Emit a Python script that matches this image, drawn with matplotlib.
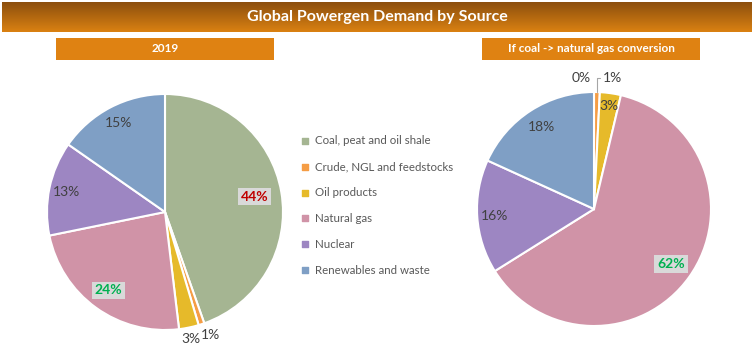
import numpy as np
import matplotlib.pyplot as plt

# Données (part de la demande par source)
sources = ["Coal, peat and oil shale", "Crude, NGL and feedstocks", "Oil products",
           "Natural gas", "Nuclear", "Renewables and waste"]
colors = ["#A5B592", "#F59D45", "#E6BA2A", "#D093A7", "#9D86C2", "#7F9FC5"]
share_2019 = [44.6, 0.8, 2.7, 23.7, 12.9, 15.3]
share_conv = [0.0, 0.8, 2.9, 62.4, 15.7, 18.2]
labels_2019 = ["44%", "1%", "3%", "24%", "13%", "15%"]
labels_conv = ["0%", "1%", "3%", "62%", "16%", "18%"]

plt.rcParams['font.family'] = ['Lato', 'DejaVu Sans']
W, H = 754, 356
fig = plt.figure(figsize=(W / 100, H / 100), dpi=100)
fig.patch.set_facecolor("white")


def px_axes(x0, y0, w, h):
    # position en pixels (origine en haut a gauche)
    return fig.add_axes([x0 / W, 1 - (y0 + h) / H, w / W, h / H])


# Bandeau du titre avec degrade
ax_t = px_axes(2, 2, 750, 30)
grad = np.linspace(0, 1, 64).reshape(-1, 1)
top = np.array([0x8C, 0x4F, 0x0E]) / 255
bot = np.array([0xDA, 0x81, 0x12]) / 255
img = top + (bot - top) * grad[:, :, None]
ax_t.imshow(img, aspect="auto", extent=[0, 1, 0, 1])
ax_t.text(0.5, 0.5, "Global Powergen Demand by Source", color="white", fontsize=11.5,
          fontweight="bold", ha="center", va="center")
ax_t.axis("off")

# Sous-titres
for x0, txt in [(56, "2019"), (482, "If coal -> natural gas conversion")]:
    ax_s = px_axes(x0, 38, 218, 22)
    ax_s.set_facecolor("#DF8212")
    ax_s.set_xticks([])
    ax_s.set_yticks([])
    for sp in ax_s.spines.values():
        sp.set_visible(False)
    ax_s.text(0.5, 0.5, txt, color="white", fontsize=8.5, fontweight="bold",
              ha="center", va="center", transform=ax_s.transAxes)

box = dict(boxstyle="square,pad=0.2", fc="#D9D9D9", ec="none")
FS = 10


def make_pie(ax, values):
    wedges, _ = ax.pie(values, colors=colors, startangle=90, counterclock=False,
                       radius=1, wedgeprops=dict(edgecolor="white", linewidth=1.5))
    ax.set_xlim(-1, 1)
    ax.set_ylim(-1, 1)
    ax.set_aspect("equal")
    ax.axis("off")
    return wedges


def mid(w, d):
    ang = np.deg2rad((w.theta1 + w.theta2) / 2)
    return d * np.cos(ang), d * np.sin(ang)


# Camembert 2019
ax1 = px_axes(47, 94, 236, 236)
wedges = make_pie(ax1, share_2019)
dists1 = [0.77, 1.1, 1.1, 0.82, 0.85, 0.85]
for i, (w, lab, d) in enumerate(zip(wedges, labels_2019, dists1)):
    x, y = mid(w, d)
    if i == 0:
        ax1.text(x, y, lab, fontsize=FS, color="#C00000", fontweight="bold",
                 ha="center", va="center", bbox=box)
    elif i == 3:
        ax1.text(x, y, lab, fontsize=FS, color="#00B050", fontweight="bold",
                 ha="center", va="center", bbox=box)
    elif i == 1:
        ax1.text(x - 0.04, y, lab, fontsize=FS, color="#404040", ha="left", va="center")
    elif i == 2:
        ax1.text(x, y, lab, fontsize=FS, color="#404040", ha="center", va="center")
    else:
        ax1.text(x, y, lab, fontsize=FS, color="#404040", ha="center", va="center")

# Camembert conversion charbon -> gaz
ax2 = px_axes(477, 92, 234, 234)
wedges = make_pie(ax2, share_conv)
dists2 = [1.12, 1.12, 0.89, 0.81, 0.85, 0.83]
for i, (w, lab, d) in enumerate(zip(wedges, labels_conv, dists2)):
    x, y = mid(w, d)
    if i == 0:
        ax2.text(x - 0.03, y, lab, fontsize=FS, color="#404040", ha="right", va="center")
    elif i == 1:
        ex, ey = mid(w, 1.0)
        ax2.annotate(lab, xy=(ex, ey), xytext=(x + 0.05, y), fontsize=FS,
                     color="#404040", ha="left", va="center",
                     arrowprops=dict(arrowstyle="-", color="#A6A6A6", lw=0.8,
                                     shrinkA=0, shrinkB=0,
                                     connectionstyle="angle,angleA=0,angleB=90,rad=0"))
    elif i == 3:
        ax2.text(x, y, lab, fontsize=FS, color="#00B050", fontweight="bold",
                 ha="center", va="center", bbox=box)
    else:
        ax2.text(x, y, lab, fontsize=FS, color="#404040", ha="center", va="center")

# Legende
ax_l = px_axes(300, 128, 150, 155)
ax_l.axis("off")
ax_l.set_xlim(0, 1)
ax_l.set_ylim(len(sources) - 0.5, -0.5)
for i, (s, c) in enumerate(zip(sources, colors)):
    ax_l.scatter([0.035], [i], marker="s", s=24, color=c)
    ax_l.text(0.1, i, s, fontsize=8.3, color="#595959", va="center", ha="left")

fig.savefig("out.png", dpi=100)
